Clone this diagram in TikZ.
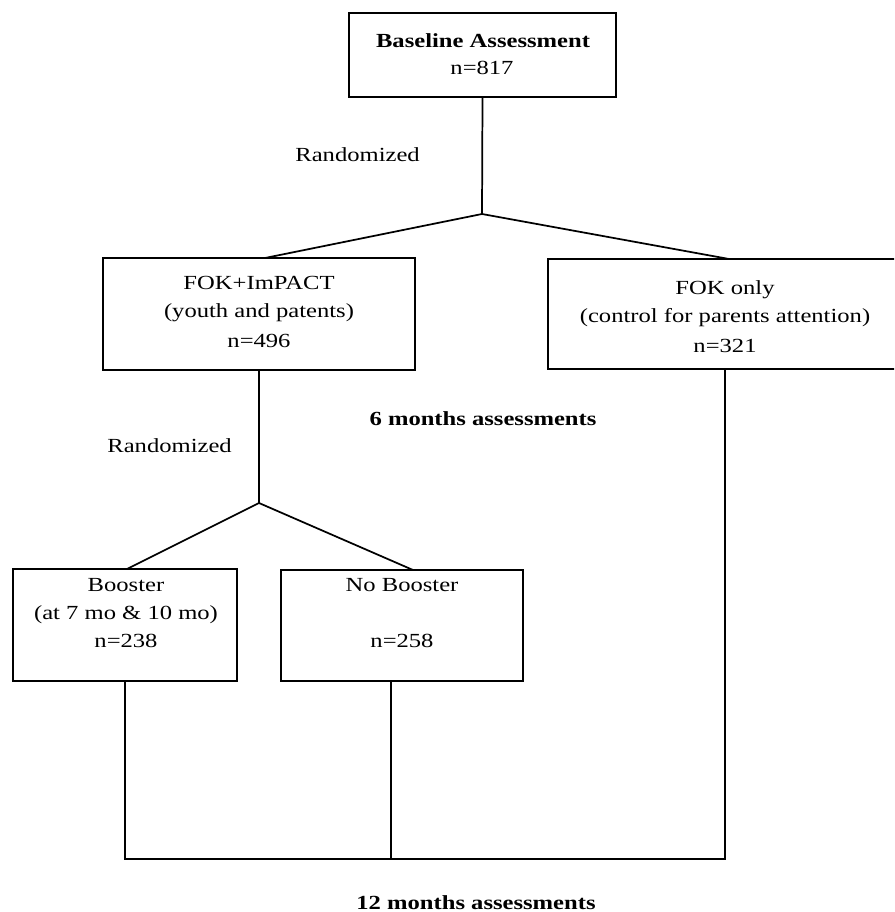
\documentclass[tikz,border=0pt]{standalone}
\usepackage{fontspec}
\usepackage{graphicx}
\setmainfont{Liberation Serif}
\newcommand{\hs}[1]{\scalebox{1.23}[1]{#1}}
\newcommand{\pxu}{0.75pt}
\tikzset{
  box/.style={draw, line width=1.3pt, inner sep=0pt, rectangle},
  txt/.style={inner sep=0pt, anchor=base, font=\fontsize{15pt}{18pt}\selectfont},
  conn/.style={line width=1.3pt}
}
\begin{document}
\begin{tikzpicture}[x=0.75pt,y=-0.75pt]
\useasboundingbox (0,0) rectangle (894,912);
\clip (0,0) rectangle (894,912);
% boxes
\node[box, minimum width=267*\pxu, minimum height=84*\pxu] (base) at (482.5,55) {};
\node[box, minimum width=312*\pxu, minimum height=112*\pxu] (fok) at (259,314) {};
\node[box, minimum width=354*\pxu, minimum height=110*\pxu] (fonly) at (725,314) {};
\node[box, minimum width=224*\pxu, minimum height=112*\pxu] (boost) at (125,625) {};
\node[box, minimum width=242*\pxu, minimum height=111*\pxu] (nob) at (402,625.5) {};
% texts
\node[txt] (t1a) at (483,48) {\hs{\textbf{Baseline Assessment}}};
\node[txt] (t1b) at (482,75) {\hs{n=817}};
\node[txt] (t2a) at (259,290) {\hs{FOK+ImPACT}};
\node[txt] (t2b) at (259,318) {\hs{(youth and patents)}};
\node[txt] (t2c) at (259,347) {\hs{n=496}};
\node[txt] (t3a) at (725,295) {\hs{FOK only}};
\node[txt] (t3b) at (725,323) {\hs{(control for parents attention)}};
\node[txt] (t3c) at (725,352) {\hs{n=321}};
\node[txt] (t4a) at (126,591) {\hs{Booster}};
\node[txt] (t4b) at (126,619) {\hs{(at 7 mo \& 10 mo)}};
\node[txt] (t4c) at (126,647) {\hs{n=238}};
\node[txt] (t5a) at (402,591) {\hs{No Booster}};
\node[txt] (t5c) at (402,647) {\hs{n=258}};
\node[txt, anchor=base east] (r1) at (420,162) {\hs{Randomized}};
\node[txt, anchor=base east] (r2) at (232,452) {\hs{Randomized}};
\node[txt] (m6) at (483,425) {\hs{\textbf{6 months assessments}}};
\node[txt] (m12) at (476,909) {\hs{\textbf{12 months assessments}}};
% connector points
\coordinate (J1) at (482,214);
\coordinate (e1) at (265,258);
\coordinate (e2) at (729,259);
\coordinate (J2) at (259,503);
\coordinate (e3) at (127,569);
\coordinate (e4) at (413,570);
\coordinate (nb) at (391,681);
\coordinate (k1) at (125,859);
\coordinate (k2) at (391,859);
\coordinate (k3) at (725,859);
% connectors
\draw[conn] (base.south) -- (J1);
\draw[conn] (e1) -- (J1) -- (e2);
\draw[conn] (fok.south) -- (J2);
\draw[conn] (e3) -- (J2) -- (e4);
\draw[conn] (boost.south) -- (k1) -- (k3) -- (fonly.south);
\draw[conn] (nb) -- (k2);
\end{tikzpicture}
\end{document}
